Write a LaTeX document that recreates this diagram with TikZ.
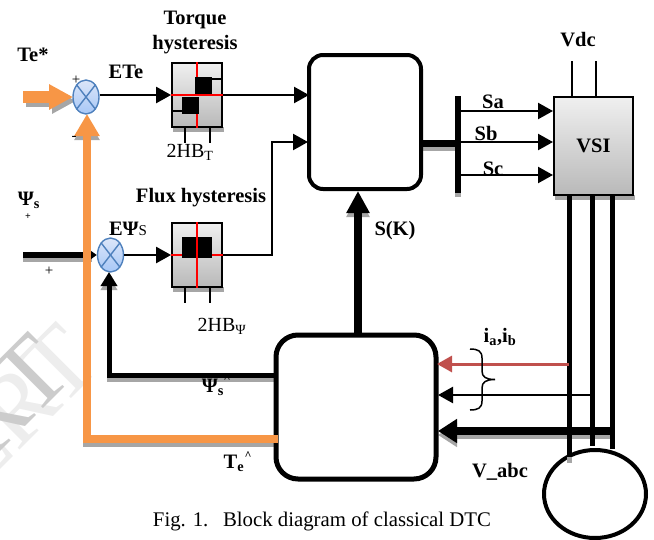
\documentclass[tikz,border=0pt]{standalone}
\usepackage{fontspec}
\setmainfont{Liberation Serif}
\usetikzlibrary{arrows.meta, shapes.geometric}
\definecolor{orangeline}{HTML}{F79646}
\definecolor{shadeline}{HTML}{A6A6A6}
\definecolor{sumblue}{HTML}{4F81BD}
\definecolor{sumtop}{HTML}{DCE6F8}
\definecolor{sumbottom}{HTML}{A7C7F7}
\definecolor{redline}{HTML}{C0504D}
\tikzset{
    boldtext/.style={font=\bfseries\fontsize{20.5}{22}\selectfont, inner sep=0pt},
    plaintext/.style={font=\fontsize{20}{22}\selectfont, inner sep=0pt},
    marktext/.style={font=\fontsize{15}{15}\selectfont, inner sep=0pt},
    caretext/.style={font=\bfseries\fontsize{12}{12}\selectfont, inner sep=0pt},
    wmark/.style={font=\fontsize{100}{100}\selectfont, inner sep=0pt, rotate=45},
    sumnode/.style={ellipse, draw=sumblue, line width=1.4pt, top color=sumtop, bottom color=sumbottom, minimum width=26pt, minimum height=34pt, inner sep=0pt},
    sumcross/.style={draw=sumblue, line width=1.4pt},
    greybox/.style={draw=black, line width=1.8pt, top color=gray!12, bottom color=gray!55, inner sep=0pt},
    hystbox/.style={greybox, minimum width=50pt, minimum height=64pt},
    roundbox/.style={draw=black, fill=white, rounded corners=14pt, inner sep=0pt},
    thinline/.style={line width=2.4pt},
    thickline/.style={line width=5pt},
    smalltip/.style={-{Triangle[length=15pt, width=16pt]}},
    bigtip/.style={-{Triangle[length=22pt, width=24pt]}},
    headPsi/.style={-{Triangle[length=14pt, width=16pt]}},
    headSk/.style={-{Triangle[length=22pt, width=22pt]}},
    headV/.style={-{Triangle[length=19pt, width=23pt]}},
    redbar/.style={draw=red, line width=1.5pt}
}
\begin{document}
\begin{tikzpicture}[x=1pt, y=-1pt]
    \useasboundingbox (0,0) rectangle (654,539);

    \node[wmark, text=gray!14] (wmLight) at (16,408) {ERT};
    \node[wmark, text=gray!40] (wmDark) at (-12,418) {ERT};

    \coordinate (TeIn) at (23,97);
    \coordinate (TeHead) at (73,97);
    \coordinate (PsiIn) at (23,255);
    \coordinate (PsiMid) at (92,255);
    \coordinate (TorqIn) at (309,95);
    \coordinate (FluxBend) at (272,255);
    \coordinate (FluxTop) at (272,142);
    \coordinate (FluxIn) at (308,142);
    \coordinate (TabOut) at (421,143);
    \coordinate (BusOut) at (456,143);
    \coordinate (BusTop) at (458,96);
    \coordinate (BusBot) at (458,193);
    \coordinate (SaL) at (458,111);
    \coordinate (SaR) at (553,111);
    \coordinate (SbL) at (458,142);
    \coordinate (SbR) at (553,142);
    \coordinate (ScL) at (458,175);
    \coordinate (ScR) at (553,175);
    \coordinate (SkFoot) at (358,333);
    \coordinate (SkTip) at (358,191);
    \coordinate (PsiEstL) at (278,375);
    \coordinate (PsiCorner) at (109,375);
    \coordinate (PsiTip) at (109,272);
    \coordinate (TeEstL) at (278,438.5);
    \coordinate (TeCorner) at (87,438.5);
    \coordinate (TeTip) at (87,114);
    \coordinate (LineA) at (569,195);
    \coordinate (LineB) at (592,195);
    \coordinate (LineC) at (612,195);
    \coordinate (LineAEnd) at (569,457);
    \coordinate (LineBEnd) at (592,446);
    \coordinate (LineCEnd) at (612,449);
    \coordinate (CurA) at (569,364);
    \coordinate (CurAEnd) at (437,364);
    \coordinate (CurB) at (592,395);
    \coordinate (CurBEnd) at (438,395);
    \coordinate (VoltR) at (612,431);
    \coordinate (VoltL) at (438,431);

    \begin{scope}[transform canvas={yshift=-4pt}, shadeline]
        \draw[line width=6pt] (PsiIn) -- (PsiMid);
        \draw[thickline, headPsi] (PsiEstL) -- (PsiCorner) -- (PsiTip);
        \draw[bigtip, line width=8pt] (TeEstL) -- (TeCorner) -- (TeTip);
        \draw[line width=7pt] (TabOut) -- (BusOut);
        \draw[line width=6pt] (BusTop) -- (BusBot);
        \draw[line width=8pt, headSk] (SkFoot) -- (SkTip);
        \draw[line width=8pt, headV] (VoltR) -- (VoltL);
    \end{scope}
    \begin{scope}[transform canvas={xshift=3pt, yshift=-4pt}, shadeline]
        \draw[-{Triangle[length=24pt, width=24pt]}, line width=12pt] (TeIn) -- (TeHead);
    \end{scope}
    \fill[shadeline] (173,127) rectangle (224,132);
    \fill[shadeline] (173,287) rectangle (224,292);
    \fill[shadeline] (555,195) rectangle (635,200);

    \node[sumnode] (sumT) at (86,97) {};
    \node[sumnode] (sumF) at (110.5,255) {};
    \node[hystbox] (torq) at (197,95) {};
    \node[hystbox] (flux) at (197,255) {};
    \node[roundbox, line width=4pt, minimum width=112pt, minimum height=134pt] (table) at (365,122) {};
    \node[roundbox, line width=5pt, rounded corners=22pt, minimum width=160pt, minimum height=144pt] (estim) at (356,407) {};
    \node[greybox, minimum width=79pt, minimum height=98pt, boldtext] (vsi) at (593.5,146) {VSI};
    \node[ellipse, draw=black, fill=white, line width=4pt, minimum width=102pt, minimum height=88pt, inner sep=0pt] (motor) at (595,494) {};

    \foreach \n in {sumT, sumF} {
        \draw[sumcross] (\n.north west) -- (\n.south east);
        \draw[sumcross] (\n.north east) -- (\n.south west);
    }

    \draw[-{Triangle[length=24pt, width=24pt]}, orangeline, line width=12pt] (TeIn) -- (TeHead);
    \draw[thinline, smalltip] (torq.west -| sumT.east) -- (torq.west);
    \draw[thinline, smalltip] (torq.east) -- (TorqIn);

    \draw[line width=6pt] (PsiIn) -- (PsiMid);
    \draw[thinline, -{Triangle[length=6pt, width=8pt]}] (PsiMid) -- (sumF.west);
    \draw[thinline, smalltip] (sumF.east) -- (flux.west);
    \draw[thinline, smalltip] (flux.east) -- (FluxBend) -- (FluxTop) -- (FluxIn);

    \draw[thickline, headPsi] (PsiEstL) -- (PsiCorner) -- (PsiTip);
    \draw[bigtip, orangeline, line width=8pt] (TeEstL) -- (TeCorner) -- (TeTip);

    \draw[line width=7pt] (TabOut) -- (BusOut);
    \draw[line width=6pt] (BusTop) -- (BusBot);
    \foreach \n in {Sa, Sb, Sc}
    \draw[thinline, smalltip] (\n L) -- (\n R);
    \draw[line width=8pt, headSk] (SkFoot) -- (SkTip);

    \foreach \n/\m in {LineA/LineAEnd, LineB/LineBEnd, LineC/LineCEnd}
    \draw[line width=5pt] (\n) -- (\m);
    \draw[line width=5pt, shadeline] (LineAEnd) -- (569,463);

    \draw[line width=3pt, redline, -{Triangle[length=15pt, width=16pt]}] (CurA) -- (CurAEnd);
    \draw[thinline, smalltip] (CurB) -- (CurBEnd);
    \draw[line width=8pt, headV] (VoltR) -- (VoltL);
    \draw[line width=1.5pt] (470,349) .. controls (478,349) and (482,351) .. (482,358) -- (482,371)
        .. controls (482,377) and (486,379.5) .. (495,379.5)
        .. controls (486,379.5) and (482,382) .. (482,388) -- (482,401)
        .. controls (482,408) and (478,410) .. (470,410);

    \fill (195,77) rectangle (212,95);
    \fill (182,97) rectangle (199,114);
    \draw[line width=1.8pt] (212,79) -- (torq.east |- 0,79);
    \draw[line width=1.8pt] (torq.west |- 0,111) -- (182,111);
    \draw[redbar] (torq.west) -- (torq.east);
    \draw[redbar] (torq.north) -- (197,77);
    \draw[redbar] (197,114) -- (torq.south);

    \draw[redbar] (flux.west) -- (flux.east);
    \fill (182,237) rectangle (212,258);
    \draw[redbar] (flux.north) -- (flux.south);

    \foreach \x in {185, 210} {
        \draw[thinline] (\x,127) -- (\x,143);
        \draw[thinline] (\x,287) -- (\x,303);
    }
    \foreach \x in {572, 596}
    \draw[line width=1.5pt] (\x,61) -- (\x,97);

    \node[boldtext] (lblTq) at (195,20) {Torque};
    \node[boldtext] (lblHy) at (195,45) {hysteresis};
    \node[boldtext] (lblFx) at (201,198) {Flux hysteresis};
    \node[boldtext] (lblTe) at (33,55) {Te*};
    \node[boldtext] (lblETe) at (126,72) {ETe};
    \node[boldtext] (lblPsi) at (29,200) {Ψ\textsubscript{s}};
    \node[boldtext] (lblEPsi) at (128,229) {EΨ{\normalfont\fontsize{15}{15}\selectfont S}};
    \node[boldtext] (lblSk) at (395,231) {S(K)};
    \node[boldtext] (lblVdc) at (578,40) {Vdc};
    \node[boldtext] (lblSa) at (493,102) {Sa};
    \node[boldtext] (lblSb) at (486,133) {Sb};
    \node[boldtext] (lblSc) at (493,169) {Sc};
    \node[boldtext] (lblI) at (500,337) {i\textsubscript{a},i\textsubscript{b}};
    \node[boldtext] (lblV) at (500,472) {V\_abc};
    \node[boldtext] (lblPsiH) at (213,387) {Ψ\textsubscript{s}};
    \node[caretext] (lblPsiC) at (227,379) {\textasciicircum};
    \node[boldtext] (lblTeH) at (234,463) {T\textsubscript{e}};
    \node[caretext] (lblTeC) at (248,456) {\textasciicircum};
    \node[plaintext] (lblHBT) at (190,152) {2HB\textsubscript{T}};
    \node[plaintext] (lblHBP) at (222,326) {2HB\textsubscript{Ψ}};
    \node[plaintext, font=\fontsize{20.8}{22}\selectfont] (lblCap) at (322,521) {Fig. 1.\hspace{0.7em}Block diagram of classical DTC};
    \node[marktext] (plusT) at (76,80) {+};
    \node[marktext] (minusT) at (74,138) {-};
    \node[marktext] (plusF) at (49,271) {+};
    \node[font=\bfseries\fontsize{10}{10}\selectfont, inner sep=0pt] (plusP) at (28,217) {+};
\end{tikzpicture}
\end{document}
